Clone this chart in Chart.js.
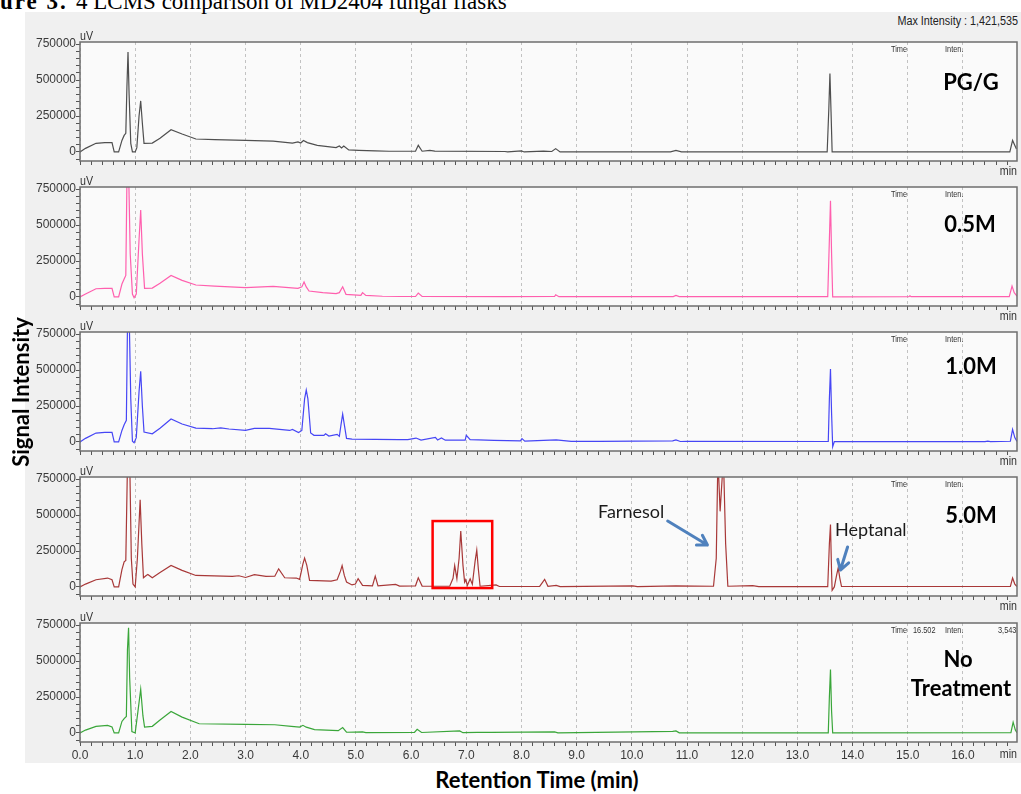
<!DOCTYPE html>
<html>
<head>
<meta charset="utf-8">
<title>LCMS comparison of MD2404 fungal flasks</title>
<script src="https://cdn.jsdelivr.net/npm/chart.js@4.4.1/dist/chart.umd.min.js"></script>
<style>
  body { margin: 0; width: 1021px; height: 794px; position: relative; overflow: hidden; background: #ffffff; }
  .frame { position: absolute; left: 25px; top: 12px; width: 996px; height: 751px; background: #f0f0f0; }
  canvas { position: absolute; left: 25px; }
  .title { position: absolute; top: -10px; left: 0; font-family: "Liberation Serif", serif; font-size: 23px; line-height: 23px; white-space: nowrap; color: #000; }
  .tag { position: absolute; width: 140px; text-align: center; font-family: Lato, sans-serif; font-weight: bold; font-size: 22px; line-height: 22px; color: #000; }
  .note { position: absolute; font-family: Lato, sans-serif; font-size: 18px; line-height: 18px; color: #1a1a1a; white-space: nowrap; }
  .axis-title { position: absolute; font-family: Lato, sans-serif; font-weight: bold; font-size: 22px; line-height: 22px; color: #000; white-space: nowrap; text-align: center; }
  .maxint { position: absolute; right: 3px; top: 15px; font-family: "Liberation Sans", sans-serif; font-size: 12px; line-height: 12px; color: #222; white-space: nowrap; transform: scaleX(0.9); transform-origin: right; }
</style>
</head>
<body>
<div class="frame"></div>
<div class="title"><b style="letter-spacing:2px">ure 3.</b><span style="position:absolute; left:76px">4 LCMS comparison of MD2404 fungal flasks</span></div>
<div class="maxint">Max Intensity : 1,421,535</div>

<canvas id="panel1" width="996" height="165" style="top:14px"></canvas>
<canvas id="panel2" width="996" height="165" style="top:159px"></canvas>
<canvas id="panel3" width="996" height="165" style="top:304px"></canvas>
<canvas id="panel4" width="996" height="165" style="top:449px"></canvas>
<canvas id="panel5" width="996" height="169" style="top:595px"></canvas>

<div class="tag" style="left:901px; top:71px">PG/G</div>
<div class="tag" style="left:900px; top:213px">0.5M</div>
<div class="tag" style="left:901px; top:355px">1.0M</div>
<div class="tag" style="left:901px; top:504px">5.0M</div>
<div class="tag" style="left:888px; top:648px">No</div>
<div class="tag" style="left:891px; top:677px">Treatment</div>

<div class="note" style="left:598px; top:502px">Farnesol</div>
<div class="note" style="left:835px; top:520px">Heptanal</div>

<div class="axis-title" style="left:387px; top:769px; width:300px">Retention Time (min)</div>
<div class="axis-title" style="left:-79px; top:381px; width:200px; transform:rotate(-90deg)">Signal Intensity</div>

<script>
// retention time (min), signal (uV)
const pgTrace = [[0,0],[0.1,25000],[0.29,60000],[0.45,65000],[0.58,65000],[0.62,0],[0.7,0],[0.76,80000],[0.8,115000],[0.83,130000],[0.85,450000],[0.87,695000],[0.89,400000],[0.92,60000],[0.95,0],[1.0,0],[1.03,30000],[1.07,250000],[1.1,355000],[1.13,200000],[1.16,60000],[1.31,62000],[1.45,95000],[1.65,155000],[1.85,125000],[2.1,90000],[2.44,86000],[3.0,80000],[3.5,75000],[3.85,62000],[3.95,70000],[4.0,62000],[4.05,80000],[4.12,65000],[4.3,46000],[4.64,30000],[4.7,41000],[4.74,28000],[4.78,41000],[4.87,14000],[5.05,11000],[5.35,7000],[5.6,5000],[6.08,5000],[6.13,46000],[6.2,5000],[6.34,11000],[6.43,6000],[7.7,3000],[7.75,0],[8.0,7000],[8.05,0],[8.4,6000],[8.55,3000],[8.62,23000],[8.7,0],[10.7,0],[10.8,11000],[10.9,0],[13.54,0],[13.57,300000],[13.59,545000],[13.61,280000],[13.63,0],[16.85,0],[16.9,80000],[16.97,20000]];

const m05Trace = [[0,0],[0.1,20000],[0.29,57000],[0.45,60000],[0.58,60000],[0.62,0],[0.7,0],[0.76,90000],[0.8,125000],[0.83,150000],[0.85,800000],[0.88,900000],[0.91,300000],[0.95,20000],[0.98,-5000],[1.02,20000],[1.07,400000],[1.1,605000],[1.13,300000],[1.17,60000],[1.31,62000],[1.45,95000],[1.65,150000],[1.85,115000],[2.1,83000],[2.44,75000],[3.0,65000],[3.5,74000],[3.95,60000],[4.02,70000],[4.06,104000],[4.1,70000],[4.15,41000],[4.4,30000],[4.64,23000],[4.7,30000],[4.76,71000],[4.82,18000],[5.09,11000],[5.12,30000],[5.18,11000],[5.48,5000],[5.8,3000],[6.08,3000],[6.13,27000],[6.2,3000],[7.7,2000],[8.6,3000],[8.62,15000],[8.68,2000],[10.75,2000],[10.8,10000],[10.86,2000],[13.55,2000],[13.58,400000],[13.6,670000],[13.62,300000],[13.64,0],[15.02,2000],[15.04,8000],[15.06,2000],[16.84,2000],[16.89,75000],[16.93,30000],[16.98,5000]];

const m10Trace = [[0,0],[0.1,25000],[0.29,62000],[0.45,66000],[0.58,66000],[0.62,0],[0.7,0],[0.76,80000],[0.8,120000],[0.84,150000],[0.86,800000],[0.89,900000],[0.92,300000],[0.95,5000],[0.98,-5000],[1.02,30000],[1.07,350000],[1.1,492000],[1.13,250000],[1.16,69000],[1.31,57000],[1.45,95000],[1.65,160000],[1.85,125000],[2.1,96000],[2.4,92000],[2.55,98000],[2.7,90000],[3.0,80000],[3.16,94000],[3.43,94000],[3.8,80000],[3.85,87000],[3.96,66000],[4.02,80000],[4.07,300000],[4.1,361000],[4.13,300000],[4.18,62000],[4.24,46000],[4.42,46000],[4.45,57000],[4.51,41000],[4.66,53000],[4.7,39000],[4.73,120000],[4.76,194000],[4.79,120000],[4.83,25000],[4.93,20000],[5.78,16000],[5.94,16000],[6.09,27000],[6.18,13000],[6.44,32000],[6.48,14000],[6.55,28000],[6.62,12000],[6.98,12000],[7.0,46000],[7.07,16000],[7.22,15000],[7.5,11000],[7.98,7000],[8.01,23000],[8.06,6000],[8.63,14000],[8.9,4000],[9.41,4000],[10.74,8000],[10.8,14000],[10.88,3000],[11.0,5000],[13.56,3000],[13.58,300000],[13.6,507000],[13.62,200000],[13.64,-34000],[13.67,2000],[16.4,2000],[16.45,6000],[16.5,2000],[16.86,5000],[16.9,87000],[16.94,30000],[16.98,3000]];

const m50Trace = [[0,0],[0.1,20000],[0.29,50000],[0.5,62000],[0.58,50000],[0.62,0],[0.7,0],[0.76,120000],[0.8,175000],[0.83,185000],[0.86,850000],[0.9,900000],[0.93,200000],[0.96,20000],[1.0,0],[1.04,200000],[1.09,606000],[1.12,300000],[1.15,64000],[1.2,80000],[1.23,87000],[1.31,64000],[1.45,100000],[1.65,149000],[1.85,115000],[2.1,80000],[2.76,73000],[2.88,78000],[3.0,66000],[3.16,85000],[3.37,73000],[3.53,75000],[3.6,126000],[3.71,64000],[3.92,62000],[3.98,53000],[4.04,160000],[4.07,201000],[4.11,150000],[4.16,46000],[4.55,41000],[4.66,50000],[4.72,110000],[4.75,149000],[4.79,80000],[4.83,34000],[4.93,14000],[4.99,20000],[5.04,57000],[5.12,11000],[5.3,8000],[5.35,75000],[5.4,7000],[5.72,18000],[5.79,6000],[6.08,8000],[6.13,64000],[6.2,6000],[6.7,5000],[6.76,60000],[6.79,149000],[6.83,57000],[6.87,200000],[6.9,389000],[6.94,150000],[6.97,34000],[6.99,50000],[7.02,11000],[7.07,57000],[7.11,18000],[7.16,180000],[7.19,256000],[7.22,120000],[7.25,5000],[7.54,14000],[7.6,3000],[8.33,4000],[8.42,53000],[8.48,4000],[8.63,11000],[8.7,2000],[10.02,7000],[10.1,2000],[10.8,8000],[11.48,5000],[11.53,200000],[11.56,900000],[11.6,526000],[11.66,900000],[11.7,300000],[11.74,5000],[12.19,9000],[12.3,2000],[13.55,2000],[13.58,300000],[13.6,434000],[13.62,100000],[13.63,-23000],[13.67,0],[13.71,80000],[13.74,133000],[13.77,60000],[13.8,3000],[16.86,3000],[16.9,62000],[16.94,20000],[16.98,3000]];

const noTreatTrace = [[0,0],[0.1,20000],[0.29,46000],[0.5,53000],[0.58,41000],[0.62,0],[0.7,0],[0.76,80000],[0.8,100000],[0.84,114000],[0.86,580000],[0.88,732000],[0.9,384000],[0.94,10000],[1.0,0],[1.05,150000],[1.1,304000],[1.14,120000],[1.17,41000],[1.31,46000],[1.45,90000],[1.65,149000],[1.85,110000],[2.16,64000],[3.0,59000],[3.53,57000],[3.83,46000],[3.98,41000],[4.04,53000],[4.1,40000],[4.25,23000],[4.68,16000],[4.76,37000],[4.83,5000],[5.12,7000],[5.18,2000],[6.06,3000],[6.11,25000],[6.19,3000],[6.88,14000],[6.94,2000],[7.2,4000],[7.45,4000],[8.6,7000],[8.66,1000],[10.74,11000],[10.8,14000],[10.86,1000],[13.56,1000],[13.58,250000],[13.6,441000],[13.62,150000],[13.64,0],[16.87,2000],[16.91,75000],[16.95,20000],[16.98,2000]];

const xTickLabels = [0, 1, 2, 3, 4, 5, 6, 7, 8, 9, 10, 11, 12, 13, 14, 15, 16];
const yTickLabels = [0, 250000, 500000, 750000];
// minor tick marks on the intensity axis
const yTickMarks = [-50000, 0, 50000, 100000, 150000, 200000, 250000, 300000, 350000, 400000, 450000, 500000, 550000, 600000, 650000, 700000, 750000];

// red box round the 6.4-7.5 min cluster and the two arrows in the 5.0M panel
const clusterBox = [6.39, 7.47, -7700, 458500];
const farnesolArrow = [10.65, 458500, 11.37, 291500];
const heptanalArrow = [13.91, 277600, 13.78, 117600];

Chart.defaults.font.family = '"Liberation Sans", Arial, sans-serif';
Chart.defaults.font.size = 12;
Chart.defaults.color = '#3a3a3a';

function narrowText(ctx, text, x, y, size, align, baseline) {
    ctx.save();
    ctx.font = size + 'px "Liberation Sans", Arial, sans-serif';
    ctx.textAlign = align;
    ctx.textBaseline = baseline;
    ctx.translate(x, y);
    ctx.scale(0.82, 1);
    ctx.fillText(text, 0, 0);
    ctx.restore();
}

function drawArrow(ctx, x1, y1, x2, y2) {
    const ang = Math.atan2(y2 - y1, x2 - x1);
    ctx.save();
    ctx.strokeStyle = '#4f81bd';
    ctx.lineWidth = 3;
    ctx.lineCap = 'round';
    ctx.lineJoin = 'round';
    ctx.beginPath();
    ctx.moveTo(x1, y1);
    ctx.lineTo(x2, y2);
    ctx.moveTo(x2 - 11 * Math.cos(ang - 0.55), y2 - 11 * Math.sin(ang - 0.55));
    ctx.lineTo(x2, y2);
    ctx.lineTo(x2 - 11 * Math.cos(ang + 0.55), y2 - 11 * Math.sin(ang + 0.55));
    ctx.stroke();
    ctx.restore();
}

function framePlugin(extra) {
    return {
        id: 'panelFrame',
        beforeDraw(chart) {
            const a = chart.chartArea;
            chart.ctx.save();
            chart.ctx.fillStyle = '#fafafa';
            chart.ctx.fillRect(a.left, a.top, a.width, a.height);
            chart.ctx.restore();
        },
        afterDraw(chart) {
            const ctx = chart.ctx;
            const a = chart.chartArea;
            const x = chart.scales.x;
            const y = chart.scales.y;
            if (extra.box) {
                const b = extra.box;
                ctx.save();
                ctx.strokeStyle = '#ff0000';
                ctx.lineWidth = 2.5;
                const l = x.getPixelForValue(b[0]);
                const t = y.getPixelForValue(b[3]);
                ctx.strokeRect(l, t, x.getPixelForValue(b[1]) - l, y.getPixelForValue(b[2]) - t);
                ctx.restore();
            }
            (extra.arrows || []).forEach(function (ar) {
                drawArrow(ctx, x.getPixelForValue(ar[0]), y.getPixelForValue(ar[1]),
                    x.getPixelForValue(ar[2]), y.getPixelForValue(ar[3]));
            });
            ctx.save();
            ctx.strokeStyle = '#6e6e6e';
            ctx.lineWidth = 1.5;
            ctx.strokeRect(a.left, a.top, a.width, a.height);
            ctx.fillStyle = '#333333';
            narrowText(ctx, 'uV', a.left, a.top - 2, 13, 'left', 'alphabetic');
            narrowText(ctx, 'min', a.right, a.bottom + extra.minGap, 13, 'right', 'top');
            extra.readout.forEach(function (r) {
                narrowText(ctx, r[0], a.right + r[1], a.top + 3, 9, 'left', 'top');
            });
            ctx.restore();
        }
    };
}

function panelConfig(trace, color, extra) {
    return {
        type: 'line',
        data: {
            datasets: [{
                data: trace.map(p => ({ x: p[0], y: p[1] })),
                borderColor: color,
                borderWidth: 1.2,
                pointRadius: 0,
                tension: 0,
                fill: false
            }]
        },
        options: {
            responsive: false,
            animation: false,
            events: [],
            layout: { padding: { top: 28, right: 4, bottom: 0, left: 0 } },
            plugins: { legend: { display: false }, tooltip: { enabled: false } },
            scales: {
                x: {
                    type: 'linear',
                    min: 0,
                    max: 16.98,
                    afterFit: function (scale) { scale.height = extra.xHeight; },
                    grid: {
                        color: c => (c.tick && xTickLabels.includes(c.tick.value)) ? '#c2c2c2' : 'rgba(0,0,0,0)',
                        tickColor: '#555555',
                        tickLength: 4
                    },
                    border: { display: false, dash: [3, 3] },
                    ticks: {
                        display: extra.showX,
                        stepSize: 0.2,
                        includeBounds: false,
                        autoSkip: false,
                        minRotation: 0,
                        maxRotation: 0,
                        padding: 2,
                        callback: v => xTickLabels.includes(v) ? v.toFixed(1) : ''
                    }
                },
                y: {
                    min: -63000,
                    max: 765000,
                    afterBuildTicks: function (scale) {
                        scale.ticks = yTickMarks.map(v => ({ value: v }));
                    },
                    afterFit: function (scale) { scale.width = 55; },
                    grid: { drawOnChartArea: false, tickColor: '#555555', tickLength: 4 },
                    border: { display: false },
                    ticks: {
                        autoSkip: false,
                        padding: 0,
                        callback: v => yTickLabels.includes(v) ? String(v) : ''
                    }
                }
            }
        },
        plugins: [framePlugin(extra)]
    };
}

const plainReadout = [['Time', -126], ['Inten.', -72]];

new Chart(document.getElementById('panel1'), panelConfig(pgTrace, '#4f4f4f',
    { xHeight: 18, showX: false, minGap: 4, readout: plainReadout }));
new Chart(document.getElementById('panel2'), panelConfig(m05Trace, '#ff5fae',
    { xHeight: 18, showX: false, minGap: 4, readout: plainReadout }));
new Chart(document.getElementById('panel3'), panelConfig(m10Trace, '#4646f5',
    { xHeight: 18, showX: false, minGap: 4, readout: plainReadout }));
new Chart(document.getElementById('panel4'), panelConfig(m50Trace, '#a83838',
    { xHeight: 18, showX: false, minGap: 4, readout: plainReadout,
      box: clusterBox, arrows: [farnesolArrow, heptanalArrow] }));
new Chart(document.getElementById('panel5'), panelConfig(noTreatTrace, '#3aa63a',
    { xHeight: 22, showX: true, minGap: 6,
      readout: [['Time', -126], ['16.502', -104], ['Inten.', -72], ['3,543', -19]] }));
</script>
</body>
</html>
